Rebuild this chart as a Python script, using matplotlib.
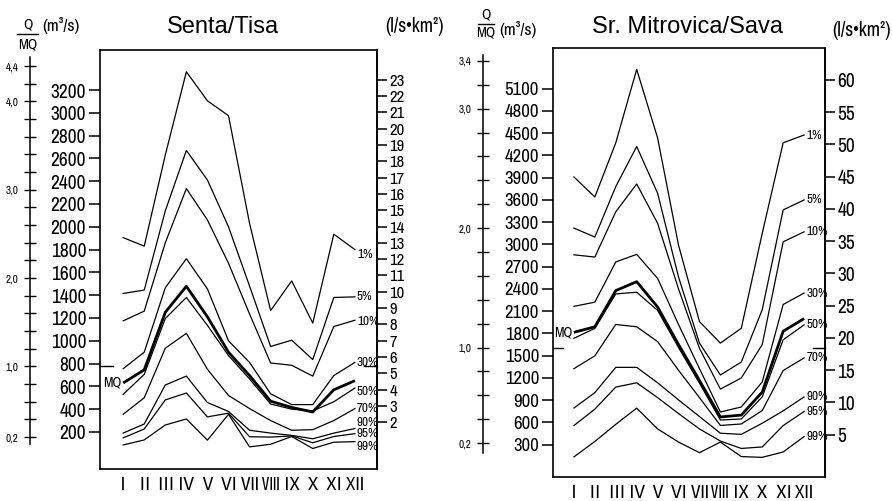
import matplotlib
matplotlib.use("Agg")
import matplotlib.pyplot as plt
from matplotlib import font_manager
from matplotlib.font_manager import FontProperties
from matplotlib.lines import Line2D
import numpy as np

months = ["Ⅰ", "Ⅱ", "Ⅲ", "Ⅳ", "Ⅴ", "Ⅵ", "Ⅶ", "Ⅷ", "Ⅸ", "Ⅹ", "Ⅺ", "Ⅻ"]
pct_labels = ["1%", "5%", "10%", "30%", "50%", "70%", "90%", "95%", "99%"]

# Senta / Tisa, monthly discharge (m3/s) per exceedance probability
tisa_1 = [1905, 1830, 2630, 3360, 3105, 2975, 2030, 1265, 1525, 1155, 1935, 1800]
tisa_5 = [1415, 1445, 2140, 2670, 2410, 2000, 1480, 950, 1005, 835, 1380, 1385]
tisa_10 = [1175, 1260, 1860, 2335, 2060, 1680, 1235, 805, 785, 690, 1125, 1180]
tisa_30 = [755, 900, 1465, 1720, 1455, 1000, 810, 535, 440, 440, 695, 810]
tisa_50 = [530, 705, 1195, 1380, 1135, 870, 665, 445, 400, 385, 465, 585]
tisa_70 = [355, 500, 935, 1065, 750, 520, 405, 300, 215, 220, 300, 405]
tisa_90 = [190, 270, 612, 690, 458, 380, 215, 190, 170, 140, 190, 230]
tisa_95 = [148, 226, 481, 542, 332, 365, 158, 155, 165, 105, 160, 185]
tisa_99 = [86, 130, 261, 314, 128, 355, 69, 92, 160, 55, 110, 115]
tisa_mean = [630, 745, 1250, 1478, 1210, 900, 695, 470, 415, 375, 570, 650]
tisa_mq = 775
tisa_spec = 143  # m3/s per l/s*km2

# Sr. Mitrovica / Sava
sava_1 = [3910, 3640, 4370, 5360, 4435, 2990, 1960, 1670, 1870, 3150, 4370, 4475]
sava_5 = [3220, 3100, 3780, 4320, 3690, 2560, 1670, 1240, 1415, 2120, 3465, 3600]
sava_10 = [2860, 2830, 3440, 3815, 3285, 2400, 1600, 1050, 1200, 1650, 3035, 3170]
sava_30 = [2165, 2222, 2764, 2866, 2542, 1920, 1326, 741, 809, 1146, 2190, 2345]
sava_50 = [1735, 1868, 2333, 2356, 2111, 1610, 1130, 633, 647, 945, 1715, 1915]
sava_70 = [1325, 1499, 1921, 1890, 1690, 1303, 935, 560, 580, 760, 1300, 1470]
sava_90 = [795, 1002, 1343, 1343, 1135, 904, 680, 455, 440, 590, 757, 944]
sava_95 = [558, 780, 1077, 1135, 935, 720, 513, 350, 250, 270, 558, 748]
sava_99 = [136, 344, 575, 793, 513, 336, 193, 336, 140, 130, 202, 410]
sava_mean = [1815, 1890, 2378, 2498, 2156, 1650, 1166, 674, 700, 1010, 1830, 2000]
sava_mq = 1610
sava_spec = 87

tisa_q_ticks = list(range(200, 3201, 200))
tisa_s_ticks = list(range(2, 24))
tisa_r_labels = [0.2, 1.0, 2.0, 3.0, 4.0, 4.4]
sava_q_ticks = list(range(300, 5101, 300))
sava_s_ticks = list(range(5, 61, 5))
sava_r_labels = [0.2, 1.0, 2.0, 3.0, 3.4]

W, H = 892, 501


def find_narrow():
    best = None
    for f in font_manager.fontManager.ttflist:
        name = f.name.lower()
        stretch = str(f.stretch).lower()
        if "mono" in name or "serif" in name or f.style != "normal":
            continue
        if f.weight not in (400, "normal", "regular", "book"):
            continue
        if "narrow" in name or "narrow" in stretch:
            rank = 0
        elif stretch == "condensed" or ("condensed" in name and "extra" not in name and "semi" not in name):
            rank = 1
        elif "semi" in stretch or "semi" in name:
            rank = 2
        else:
            continue
        if best is None or rank < best[0]:
            best = (rank, f.fname)
    return best[1] if best else None


NARROW_PATH = find_narrow()


def nfont(size):
    if NARROW_PATH:
        return FontProperties(fname=NARROW_PATH, size=size)
    return FontProperties(family="Liberation Sans", size=size * 0.88)


MONTH_FONT = FontProperties(family=["Noto Sans CJK JP", "DejaVu Sans"], size=13)
TITLE_FONT = FontProperties(family="Liberation Sans", size=17)


def fx(x):
    return x / W


def fy(y):
    return 1 - y / H


fig = plt.figure(figsize=(W / 100, H / 100), dpi=100)


def panel(box, xlim, ylim, curves, mean, mq, spec, q_ticks, s_ticks,
          r_x, r_top, r_labels, nudges, q_size, s_size, mq_end):
    x0, y0, x1, y1 = box
    ax = fig.add_axes([fx(x0), fy(y1), fx(x1 - x0), (y1 - y0) / H])
    ax.set_xlim(xlim)
    ax.set_ylim(ylim)
    x = np.arange(1, 13)
    for vals in curves:
        ax.plot(x, vals, color="black", lw=0.9)
    ax.plot(x, mean, color="black", lw=2.0, solid_capstyle="butt")
    for sp in ax.spines.values():
        sp.set_linewidth(1.2)
    ax.set_xticks(x)
    ax.set_xticklabels(months, fontproperties=MONTH_FONT)
    ax.tick_params(axis="x", length=0, pad=5)
    ax.set_yticks(q_ticks)
    ax.set_yticklabels([str(q) for q in q_ticks], fontproperties=nfont(q_size))
    ax.tick_params(axis="y", direction="out", length=8, width=1.1, pad=2)

    sec = ax.secondary_yaxis("right", functions=(lambda q: q / spec, lambda s: s * spec))
    sec.set_yticks(s_ticks)
    sec.set_yticklabels([str(s) for s in s_ticks], fontproperties=nfont(s_size))
    sec.tick_params(direction="out", length=7, width=1.1, pad=2)
    sec.spines["right"].set_linewidth(1.2)

    # percentile labels at the right end of each curve
    for vals, lab, dy in zip(curves, pct_labels, nudges):
        ax.text(12.1, vals[-1] + dy, lab, fontproperties=nfont(9.5),
                ha="left", va="center")
    ax.text(0.93, mean[0], "MQ", fontproperties=nfont(10), ha="right", va="center")
    ax.plot([xlim[0], mq_end], [mq, mq], color="black", lw=1.0, clip_on=False)
    ax.plot([12.45, xlim[1]], [mq, mq], color="black", lw=1.0, clip_on=False)

    # Q/MQ scale
    rax = fig.add_axes([fx(r_x), fy(y1), 0.0001, (y1 - y0) / H])
    rax.set_ylim(ylim[0] / mq, ylim[1] / mq)
    rax.patch.set_visible(False)
    for k in ("top", "right", "bottom"):
        rax.spines[k].set_visible(False)
    rax.spines["left"].set_bounds(0.12, r_top)
    rax.spines["left"].set_linewidth(1.1)
    rax.set_xticks([])
    r_ticks = np.round(np.arange(0.2, r_top - 0.05, 0.2), 1)
    r_ticks = sorted(set(list(r_ticks) + r_labels))
    rax.set_yticks(r_ticks)
    rax.set_yticklabels([f"{t:.1f}".replace(".", ",") if any(abs(t - l) < 1e-6 for l in r_labels) else ""
                         for t in r_ticks], fontproperties=nfont(8))
    rax.tick_params(axis="y", direction="inout", length=9, width=1.0, pad=4)
    return ax


tisa_curves = [tisa_1, tisa_5, tisa_10, tisa_30, tisa_50, tisa_70, tisa_90, tisa_95, tisa_99]
sava_curves = [sava_1, sava_5, sava_10, sava_30, sava_50, sava_70, sava_90, sava_95, sava_99]

panel((100, 50, 377, 469), (-0.1, 13.05), (-125, 3551), tisa_curves, tisa_mean,
      tisa_mq, tisa_spec, tisa_q_ticks, tisa_s_ticks, 30, 4.5, tisa_r_labels,
      [-40, 0, -15, 0, -30, 0, 50, 5, -45], 14, 12, 0.52)
panel((553, 48, 825, 477), (0, 13), (-135, 5648), sava_curves, sava_mean,
      sava_mq, sava_spec, sava_q_ticks, sava_s_ticks, 483, 3.45, sava_r_labels,
      [0, 0, 0, 0, 0, 0, 0, 0, 0], 13.5, 14, 0.5)

# titles and unit headers
fig.text(fx(223), fy(27), "Senta/Tisa", fontproperties=TITLE_FONT, ha="center", va="center")
fig.text(fx(688), fy(27), "Sr. Mitrovica/Sava", fontproperties=TITLE_FONT, ha="center", va="center")

fig.text(fx(28), fy(24), "Q", fontproperties=nfont(10.5), ha="center", va="center")
fig.add_artist(Line2D([fx(17), fx(38)], [fy(34), fy(34)], color="black", lw=1.0))
fig.text(fx(28), fy(44), "MQ", fontproperties=nfont(10.5), ha="center", va="center")
fig.text(fx(42), fy(26), "(m³/s)", fontproperties=nfont(12.5), ha="left", va="center")
fig.text(fx(444), fy(27), "(l/s•km²)", fontproperties=nfont(14), ha="right", va="center")

fig.text(fx(486), fy(15), "Q", fontproperties=nfont(10.5), ha="center", va="center")
fig.add_artist(Line2D([fx(478), fx(494)], [fy(24), fy(24)], color="black", lw=1.0))
fig.text(fx(486), fy(33), "MQ", fontproperties=nfont(10.5), ha="center", va="center")
fig.text(fx(499), fy(30), "(m³/s)", fontproperties=nfont(12.5), ha="left", va="center")
fig.text(fx(891), fy(30), "(l/s•km²)", fontproperties=nfont(14), ha="right", va="center")

fig.savefig("out.png", dpi=100)
